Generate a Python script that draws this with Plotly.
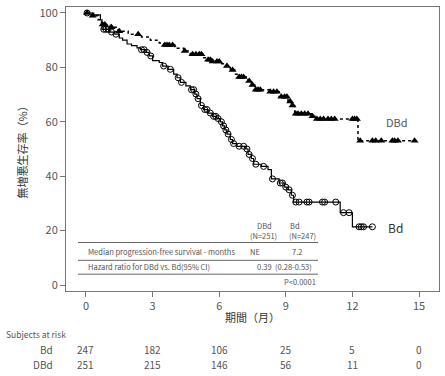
import numpy as np
import plotly.graph_objects as go

# ---- data ----
Bd_t = [0, 0.35, 0.65, 0.72, 1.05, 1.3, 1.5, 1.65, 1.85, 2.05, 2.3, 2.45, 2.7, 2.85, 3.0, 3.3, 3.45, 3.7, 3.95, 4.1,
        4.25, 4.5, 4.7, 4.9, 5.0, 5.15, 5.3, 5.5, 5.7, 5.9, 6.05, 6.15, 6.25, 6.35, 6.5, 6.6, 6.8, 7.2, 7.3, 7.45,
        7.55, 7.9, 8.2, 8.35, 8.7, 8.95, 9.1, 9.25, 9.35, 11.45, 12.0]
Bd_s = [100, 99.3, 97.5, 94, 93, 92.2, 90.8, 90, 88.6, 88, 87.2, 86.5, 85.5, 84.2, 82.5, 81.8, 80.5, 79.3, 77.5, 76.2,
        74.5, 73.2, 71.8, 70.2, 68.5, 66, 64.5, 63.2, 62, 61.2, 60, 58.5, 57, 55.5, 53.5, 52, 51, 50, 48, 46.5,
        44.4, 43.6, 42.4, 39, 37.5, 36, 35, 33, 30.5, 26.6, 21.4]
Bd_end = 12.9
Bd_cens = [0.05, 0.8, 0.9, 1.0, 1.15, 1.35, 2.5, 2.62, 2.75, 2.92, 3.5, 3.8, 4.15, 4.3, 4.75, 4.85, 4.95, 5.05, 5.2,
           5.35, 5.45, 5.6, 5.75, 5.85, 5.95, 6.1, 6.2, 6.3, 6.4, 6.55, 6.65, 6.9, 7.1, 7.25, 7.35, 7.5, 7.65, 8.0,
           8.4, 8.75, 8.85, 9.0, 9.15, 9.3, 9.45, 9.6, 9.95, 10.05, 10.65, 10.75, 11.25, 11.6, 11.85, 12.3, 12.4,
           12.5, 12.9]

DBd_t = [0, 0.25, 0.55, 0.7, 1.1, 1.45, 1.9, 2.5, 2.9, 3.3, 3.5, 4.0, 4.4, 4.7, 5.3, 5.45, 5.65, 6.05, 6.3, 6.5,
         6.7, 6.85, 7.3, 7.45, 7.6, 8.25, 8.7, 9.1, 9.25, 9.4, 10.15, 10.35, 12.25]
DBd_s = [100, 99, 97.5, 95.8, 94.8, 93.3, 92.2, 91.2, 90, 89, 88.2, 87, 86, 84.8, 83.5, 82.8, 82.2, 81.3, 80.5, 79,
         77.5, 76.5, 75, 73.5, 71.8, 71, 69.2, 67.5, 66, 63, 62, 61, 53]
DBd_end = 14.8
DBd_cens = [0.05, 0.3, 0.75, 0.85, 1.15, 1.5, 2.35, 3.55, 3.65, 3.75, 3.9, 4.45, 4.8, 4.95, 5.1, 5.2, 5.5, 5.6, 5.7,
            5.9, 6.0, 6.35, 6.6, 6.9, 7.0, 7.1, 7.35, 7.5, 7.65, 7.75, 7.85, 8.3, 8.45, 8.6, 8.8, 8.95, 9.05, 9.2,
            9.3, 9.45, 9.55, 9.7, 9.85, 10.0, 10.2, 10.4, 10.55, 10.7, 10.9, 11.05, 11.2, 12.0, 12.1, 12.2, 12.35,
            12.9, 13.05, 13.3, 13.8, 13.9, 14.05, 14.8]

x_ticks = [0, 3, 6, 9, 12, 15]
y_ticks = [0, 20, 40, 60, 80, 100]
risk_times = [0, 3, 6, 9, 12, 15]
risk_Bd = [247, 182, 106, 25, 5, 0]
risk_DBd = [251, 215, 146, 56, 11, 0]

FONT = "Noto Sans CJK JP"
TXT = "#555555"
W, H = 445, 376
L, R, T, B = 66, 6, 4, 85


def px(xp, yp):
    return (xp - L) / (W - L - R), (H - B - yp) / (H - T - B)


def step_lookup(ts, ss, q):
    idx = np.searchsorted(np.array(ts), np.array(q), side="right") - 1
    return list(np.array(ss)[idx])


fig = go.Figure()
fig.add_trace(go.Scatter(x=Bd_t + [Bd_end], y=Bd_s + [Bd_s[-1]], mode="lines", line_shape="hv",
                         line=dict(color="black", width=1.2), hoverinfo="skip", showlegend=False))
fig.add_trace(go.Scatter(x=Bd_cens, y=step_lookup(Bd_t, Bd_s, Bd_cens), mode="markers",
                         marker=dict(symbol="circle-open", size=6, color="black", line=dict(width=1)),
                         showlegend=False))
fig.add_trace(go.Scatter(x=DBd_t + [DBd_end], y=DBd_s + [DBd_s[-1]], mode="lines", line_shape="hv",
                         line=dict(color="black", width=1.5, dash="3px,3px"), hoverinfo="skip", showlegend=False))
fig.add_trace(go.Scatter(x=DBd_cens, y=step_lookup(DBd_t, DBd_s, DBd_cens), mode="markers",
                         marker=dict(symbol="triangle-up", size=7, color="black"), showlegend=False))

ann = []


def text(xp, yp, s, size, xanchor="left", color=TXT):
    xx, yy = px(xp, yp)
    ann.append(dict(x=xx, y=yy, xref="paper", yref="paper", text=s, showarrow=False, xanchor=xanchor,
                    yanchor="middle", font=dict(size=size, color=color, family=FONT)))


# curve labels
text(397, 120, "DBd", 11, "center")
text(395, 227, "Bd", 12, "center", "#333333")

# in-plot summary table
text(255, 225, "DBd", 7.5)
text(248, 235, "(N=251)", 7.5)
text(288, 225, "Bd", 7.5)
text(287, 235, "(N=247)", 7.5)
text(86, 251, "Median progression-free survival - months", 7.5)
text(248, 251, "NE", 7.5)
text(290, 251, "7.2", 7.5)
text(86, 266, "Hazard ratio for DBd vs. Bd(95% CI)", 7.5)
text(255, 266, "0.39  (0.28-0.53)", 7.5)
text(318, 281, "P<0.0001", 7.5, "right")

shapes = []
for yp in [242, 260, 274]:
    x0, y0 = px(78, yp)
    x1, _ = px(318, yp)
    shapes.append(dict(type="line", xref="paper", yref="paper", x0=x0, x1=x1, y0=y0, y1=y0,
                       line=dict(color="#666666", width=1)))

# risk table
text(4, 334, "Subjects at risk", 8.5)
text(55, 350, "Bd", 10, "right")
text(55, 365, "DBd", 10, "right")
_, yb = px(0, 350)
_, yd = px(0, 365)
for t, a, b in zip(risk_times, risk_Bd, risk_DBd):
    ann.append(dict(x=t, y=yb, xref="x", yref="paper", text=str(a), showarrow=False, yanchor="middle",
                    font=dict(size=10, color=TXT, family=FONT)))
    ann.append(dict(x=t, y=yd, xref="x", yref="paper", text=str(b), showarrow=False, yanchor="middle",
                    font=dict(size=10, color=TXT, family=FONT)))

# axis titles
text(252, 317, "期間（月）", 11, "center", "#333333")
xx, yy = px(22, 148)
ann.append(dict(x=xx, y=yy, xref="paper", yref="paper", text="無増悪生存率（%）", showarrow=False, textangle=-90,
                xanchor="center", yanchor="middle", font=dict(size=11, color="#333333", family=FONT)))

fig.update_layout(
    width=W, height=H, margin=dict(l=L, r=R, t=T, b=B),
    paper_bgcolor="white", plot_bgcolor="white",
    font=dict(family=FONT, color=TXT),
    annotations=ann, shapes=shapes,
    xaxis=dict(range=[-0.9, 15.9], tickvals=x_ticks, showgrid=False, zeroline=False, showline=True, mirror=True,
               linecolor="#777777", linewidth=1, ticks="outside", ticklen=5, tickcolor="#777777",
               tickfont=dict(size=11, color=TXT, family=FONT)),
    yaxis=dict(range=[-2.2, 102.2], tickvals=y_ticks, showgrid=False, zeroline=False, showline=True, mirror=True,
               linecolor="#777777", linewidth=1, ticks="outside", ticklen=5, tickcolor="#777777",
               tickfont=dict(size=11, color=TXT, family=FONT)),
)

fig.write_html("out.html", config={"displayModeBar": False},
               post_script="document.body.style.margin='0';document.body.style.overflow='hidden';")
